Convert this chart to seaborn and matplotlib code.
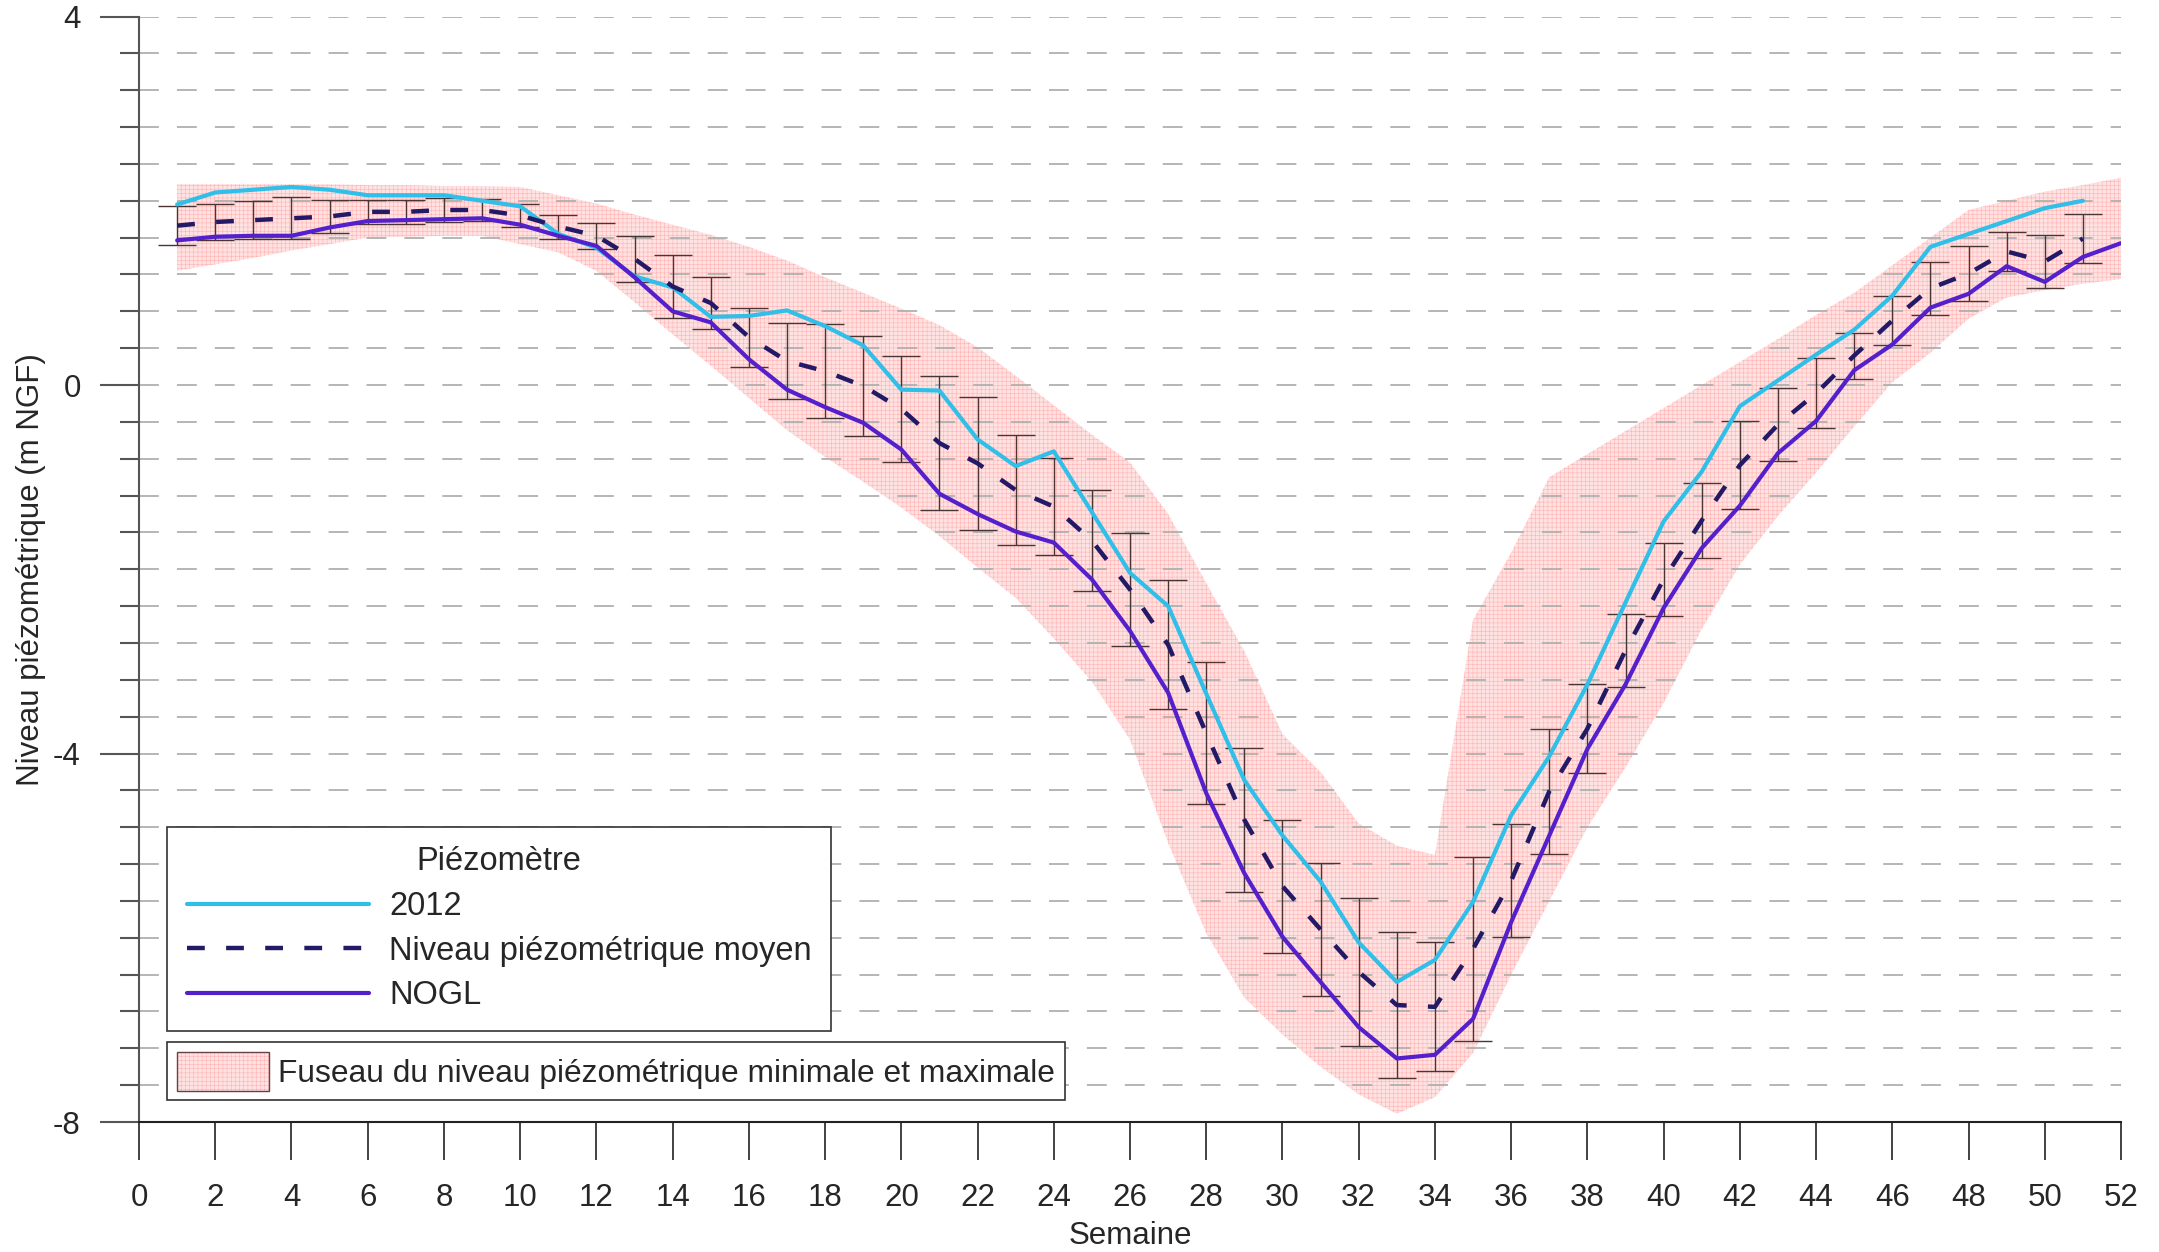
import numpy as np
import pandas as pd
import matplotlib
matplotlib.use("Agg")
import matplotlib.pyplot as plt
import matplotlib.patches as mpatches
from matplotlib.lines import Line2D
from matplotlib.legend_handler import HandlerTuple
from matplotlib.ticker import MultipleLocator
import seaborn as sns

# --- donnees (m NGF) ---
semaines_2012 = list(range(1, 52))
niveau_2012 = [1.96, 2.09, 2.12, 2.15, 2.12, 2.06, 2.06, 2.06, 2.00, 1.94,
               1.64, 1.49, 1.18, 1.06, 0.74, 0.75, 0.81, 0.64, 0.43, -0.05,
               -0.06, -0.59, -0.88, -0.72, -1.38, -2.04, -2.40, -3.35, -4.29, -4.89,
               -5.39, -6.05, -6.48, -6.24, -5.61, -4.67, -4.03, -3.25, -2.36, -1.48,
               -0.94, -0.23, 0.05, 0.33, 0.60, 0.97, 1.50, 1.64, 1.78, 1.92,
               2.00]

semaines_moy = list(range(1, 52))
niveau_moyen = [1.73, 1.77, 1.79, 1.81, 1.83, 1.88, 1.88, 1.90, 1.90, 1.84,
                1.72, 1.62, 1.37, 1.07, 0.89, 0.52, 0.26, 0.15, -0.01, -0.26,
                -0.63, -0.85, -1.14, -1.32, -1.69, -2.22, -2.82, -3.78, -4.72, -5.44,
                -5.91, -6.37, -6.73, -6.75, -6.12, -5.38, -4.41, -3.73, -2.88, -2.11,
                -1.47, -0.87, -0.43, -0.09, 0.32, 0.70, 1.05, 1.21, 1.45, 1.34,
                1.59]
ecart_type = [0.21, 0.20, 0.21, 0.23, 0.18, 0.13, 0.13, 0.13, 0.12, 0.13,
              0.13, 0.14, 0.25, 0.34, 0.28, 0.32, 0.41, 0.51, 0.54, 0.58,
              0.73, 0.72, 0.60, 0.53, 0.55, 0.61, 0.70, 0.77, 0.78, 0.72,
              0.72, 0.80, 0.79, 0.70, 1.00, 0.61, 0.68, 0.48, 0.40, 0.40,
              0.41, 0.48, 0.40, 0.38, 0.25, 0.27, 0.29, 0.30, 0.21, 0.29,
              0.27]

semaines_nogl = list(range(1, 53))
niveau_nogl = [1.57, 1.61, 1.62, 1.62, 1.71, 1.78, 1.79, 1.80, 1.81, 1.74,
               1.62, 1.51, 1.17, 0.80, 0.68, 0.28, -0.05, -0.24, -0.41, -0.70,
               -1.18, -1.40, -1.59, -1.71, -2.11, -2.67, -3.34, -4.43, -5.30, -5.99,
               -6.48, -6.97, -7.31, -7.27, -6.88, -5.83, -4.89, -3.95, -3.25, -2.42,
               -1.77, -1.31, -0.74, -0.39, 0.16, 0.44, 0.84, 0.99, 1.29, 1.12,
               1.39, 1.54]

semaines_fuseau = list(range(1, 53))
fuseau_max = [2.18, 2.18, 2.18, 2.18, 2.18, 2.17, 2.17, 2.16, 2.16, 2.15,
              2.06, 1.97, 1.85, 1.74, 1.63, 1.50, 1.35, 1.17, 1.00, 0.83,
              0.65, 0.41, 0.10, -0.22, -0.54, -0.84, -1.40, -2.15, -2.89, -3.79,
              -4.20, -4.76, -5.00, -5.10, -2.55, -1.82, -1.00, -0.75, -0.50, -0.25,
              0.00, 0.25, 0.50, 0.76, 1.00, 1.30, 1.60, 1.90, 2.00, 2.10,
              2.17, 2.25]
fuseau_min = [1.24, 1.31, 1.38, 1.46, 1.53, 1.60, 1.61, 1.62, 1.62, 1.53,
              1.44, 1.24, 0.90, 0.55, 0.21, -0.14, -0.49, -0.78, -1.05, -1.33,
              -1.64, -1.98, -2.31, -2.75, -3.22, -3.85, -4.97, -5.95, -6.65, -7.05,
              -7.40, -7.70, -7.91, -7.73, -7.25, -6.40, -5.60, -4.80, -4.15, -3.45,
              -2.65, -1.95, -1.42, -0.95, -0.45, 0.03, 0.35, 0.72, 0.95, 1.03,
              1.10, 1.15]

x_ticks = list(range(0, 53, 2))
y_ticks = [-8, -4, 0, 4]

# couleurs
c_2012 = '#2fbfe8'
c_moy = '#221a66'
c_nogl = '#5320cc'
c_fuseau = '#ffe2e2'
c_hachure = '#ffb2b2'

sns.set_style("white")
plt.rcParams['font.family'] = ['Liberation Sans', 'DejaVu Sans']
plt.rcParams['axes.unicode_minus'] = False
plt.rcParams['hatch.linewidth'] = 0.4
plt.rcParams['hatch.color'] = c_hachure
fs = 22.5

fig = plt.figure(figsize=(21.59, 12.52), dpi=100)
ax = fig.add_axes([0.0644, 0.1038, 0.918, 0.8830])

# fuseau min / max
ax.fill_between(semaines_fuseau, fuseau_min, fuseau_max, facecolor=c_fuseau,
                edgecolor=c_hachure, hatch='++++', linewidth=0, zorder=1)

# barres d'erreur autour du niveau moyen
ax.errorbar(semaines_moy, niveau_moyen, yerr=ecart_type, fmt='none',
            ecolor='#4a3434', elinewidth=1.0, capsize=13.5, capthick=1.0, zorder=3)

df_2012 = pd.DataFrame({'Semaine': semaines_2012, 'Niveau': niveau_2012})
df_moy = pd.DataFrame({'Semaine': semaines_moy, 'Niveau': niveau_moyen})
df_nogl = pd.DataFrame({'Semaine': semaines_nogl, 'Niveau': niveau_nogl})

sns.lineplot(data=df_2012, x='Semaine', y='Niveau', color=c_2012, linewidth=3.0,
             estimator=None, legend=False, ax=ax, zorder=4)
sns.lineplot(data=df_moy, x='Semaine', y='Niveau', color=c_moy, linewidth=3.2,
             linestyle=(0, (4, 4.8)), estimator=None, legend=False, ax=ax, zorder=4)
sns.lineplot(data=df_nogl, x='Semaine', y='Niveau', color=c_nogl, linewidth=3.0,
             estimator=None, legend=False, ax=ax, zorder=4)

# axes
ax.set_xlim(0, 52)
ax.set_ylim(-8, 4)
ax.set_xticks(x_ticks)
ax.set_yticks(y_ticks)
ax.yaxis.set_minor_locator(MultipleLocator(0.4))
ax.set_xlabel('Semaine', fontsize=fs, labelpad=6)
ax.set_ylabel('Niveau piézométrique (m NGF)', fontsize=fs, labelpad=5)

for s in ['top', 'right']:
    ax.spines[s].set_visible(False)
ax.spines['left'].set_color('#555555')
ax.spines['left'].set_linewidth(1.5)
ax.spines['bottom'].set_color('#222222')
ax.spines['bottom'].set_linewidth(1.5)

ax.tick_params(axis='y', which='major', length=28, width=1.5, color='#555555',
               pad=14, labelsize=fs, left=True)
ax.tick_params(axis='y', which='minor', length=14, width=1.5, color='#555555', left=True)
ax.tick_params(axis='x', which='major', length=27, width=1.2, color='#222222',
               pad=17, labelsize=fs, bottom=True)

ax.set_axisbelow('line')
ax.yaxis.grid(True, which='both', color='#b0b0b0', linewidth=1.3, linestyle=(0, (11, 10)))
ax.xaxis.grid(False)

# legendes
h_lignes = [Line2D([], [], color=c_2012, lw=3.0),
            Line2D([], [], color=c_moy, lw=3.2, linestyle=(0, (4, 4.8))),
            Line2D([], [], color=c_nogl, lw=3.0)]
leg1 = ax.legend(h_lignes, ['2012', 'Niveau piézométrique moyen', 'NOGL'],
                 title='Piézomètre', title_fontsize=23.5, fontsize=23.5,
                 loc='lower left', bbox_to_anchor=(0.0141, 0.0823), borderaxespad=0,
                 frameon=True, fancybox=False, framealpha=1, edgecolor='#333333',
                 handlelength=5.6, handletextpad=0.6, labelspacing=0.42, borderpad=0.6)
leg1.get_frame().set_linewidth(1.2)

h_fuseau = (mpatches.Patch(facecolor=c_fuseau, edgecolor=c_hachure, hatch='++++', linewidth=0),
            mpatches.Patch(facecolor='none', edgecolor='#6a4040', linewidth=1.0))
leg2 = ax.legend([h_fuseau], ['Fuseau du niveau piézométrique minimale et maximale'],
                 handler_map={tuple: HandlerTuple(ndivide=1)}, fontsize=22.9,
                 loc='lower left', bbox_to_anchor=(0.0141, 0.0199), borderaxespad=0,
                 frameon=True, fancybox=False, framealpha=1, edgecolor='#333333',
                 handlelength=2.9, handleheight=1.5, handletextpad=0.3, borderpad=0.3)
leg2.get_frame().set_linewidth(1.2)
ax.add_artist(leg1)

fig.savefig('out.png', dpi=100)
